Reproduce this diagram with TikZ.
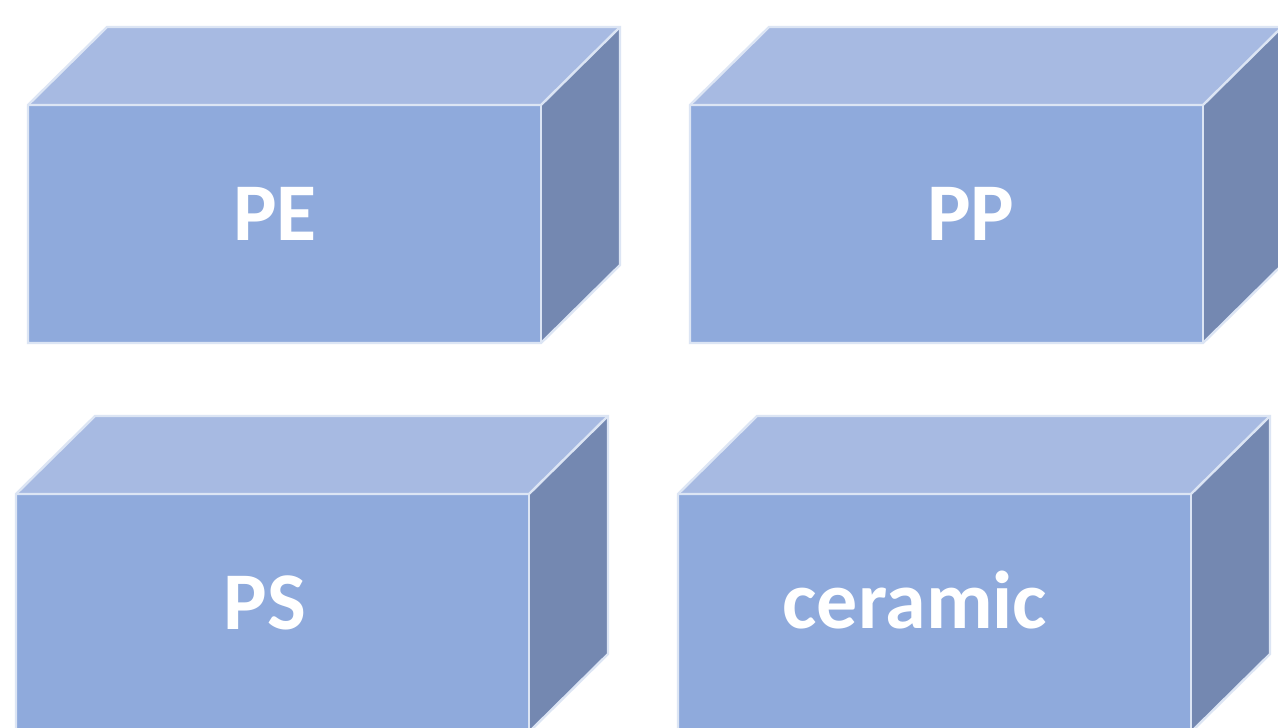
\documentclass[tikz,border=0pt]{standalone}
\usepackage{fontspec}
\setmainfont{Carlito}
\definecolor{frontfill}{HTML}{8FAADC}
\definecolor{topfill}{HTML}{A7BAE2}
\definecolor{sidefill}{HTML}{7488B1}
\definecolor{edge}{HTML}{DCE5F4}
\tikzset{
  face/.style={draw=edge, line width=2.4pt, line join=miter},
  label/.style={text=white, font=\bfseries\fontsize{82}{82}\selectfont, anchor=base, inner sep=0pt},
}
% cuboid: front face lower-left corner at #1,#2 (top-left in page coords), width 513, height 238, depth offset (79,78)
\newcommand\drawcuboid[2]{%
  \fill[topfill] (#1,#2) -- ++(79,-78) -- ++(513,0) -- ++(-79,78) -- cycle;
  \fill[sidefill] (#1+513,#2) -- ++(79,-78) -- ++(0,238) -- ++(-79,78) -- cycle;
  \fill[frontfill] (#1,#2) rectangle ++(513,238);
  \draw[face] (#1,#2) -- ++(79,-78) -- ++(513,0) -- ++(0,238) -- ++(-79,78) -- ++(-513,0) -- cycle;
  \draw[face] (#1,#2) -- ++(513,0) -- ++(79,-78);
  \draw[face] (#1+513,#2) -- ++(0,238);
}
\begin{document}
\begin{tikzpicture}[x=1pt,y=-1pt]
  \useasboundingbox (0,0) rectangle (1278,728);
  \fill[white] (0,0) rectangle (1278,728);
  \clip (0,0) rectangle (1278,728);
  \drawcuboid{28}{105}
  \drawcuboid{690}{105}
  \drawcuboid{16}{494}
  \drawcuboid{678}{494}
  \node[label] (pe) at (275,240) {PE};
  \node[label] (pp) at (971,240) {PP};
  \node[label] (ps) at (265,629) {PS};
  \node[label] (ceramic) at (915,628) {ceramic};
\end{tikzpicture}
\end{document}
